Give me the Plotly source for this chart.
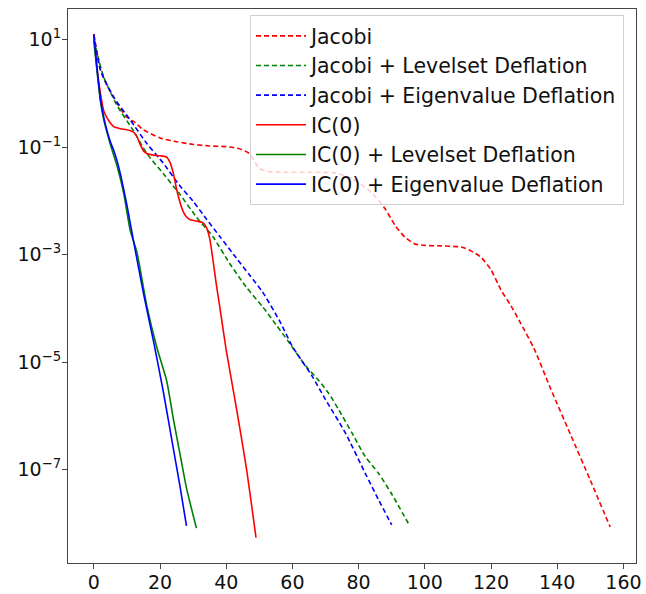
import plotly.graph_objects as go

# ---- data (iteration, residual) ----
jac_x = [0, 2, 4, 6, 8, 10, 12, 15, 20, 25, 30, 35, 40, 44, 47, 50, 53, 57, 65, 73, 78, 84, 88, 91,
         94, 97, 100, 105, 111, 114, 117, 120, 123, 126, 129, 133, 138, 144, 150, 156]
jac_y = [12.6, 2.8, 1.4, 0.85, 0.52, 0.36, 0.30, 0.21, 0.148, 0.126, 0.112, 0.105, 0.102, 0.093,
         0.076, 0.040, 0.035, 0.034, 0.034, 0.033, 0.026, 0.0141, 0.0071, 0.0035, 0.0021, 0.00158,
         0.00148, 0.00145, 0.00138, 0.00117, 8.9e-4, 5.2e-4, 2.2e-4, 1.12e-4, 5.2e-5, 1.78e-5,
         3.2e-6, 4.5e-7, 6.3e-8, 8.5e-9]

jac_ls_x = [0, 3, 7, 12, 16, 21, 26, 31, 36, 41, 46, 51, 55, 59, 64, 68, 71, 74, 78, 82, 86, 90, 95]
jac_ls_y = [10.0, 2.0, 0.60, 0.20, 0.076, 0.032, 0.0132, 0.0050, 0.00214, 6.9e-4, 2.5e-4, 1.07e-4,
            5.0e-5, 2.3e-5, 8.5e-6, 4.5e-6, 2.6e-6, 1.29e-6, 4.8e-7, 1.74e-7, 8.5e-8, 3.5e-8, 1.0e-8]

jac_ev_x = [0, 2, 6, 11, 16, 21, 26, 30, 34, 38, 43, 47, 51, 56, 60, 66, 70, 76, 82, 86, 90]
jac_ev_y = [12.6, 2.7, 0.85, 0.32, 0.117, 0.050, 0.019, 0.0098, 0.0046, 0.0022, 8.7e-4, 4.2e-4,
            2.0e-4, 6.0e-5, 1.95e-5, 5.4e-6, 2.0e-6, 4.8e-7, 8.5e-8, 2.75e-8, 9.3e-9]

ic_x = [0, 1, 2, 3, 4, 5, 6, 8, 10, 12, 13, 14, 15, 16, 18, 20, 22, 23, 24, 25, 26, 27, 28, 29,
        31, 33, 34, 35, 36, 37, 38, 40, 43, 46, 49]
ic_y = [12.6, 2.8, 1.0, 0.47, 0.35, 0.28, 0.24, 0.22, 0.21, 0.19, 0.158, 0.112, 0.085, 0.076,
        0.071, 0.069, 0.065, 0.052, 0.033, 0.0166, 0.0095, 0.0063, 0.0050, 0.0045, 0.0042, 0.0039,
        0.0032, 0.0020, 7.9e-4, 2.8e-4, 1.12e-4, 1.66e-5, 1.48e-6, 1.15e-7, 5.4e-9]

ic_ls_x = [0, 1, 2, 3, 5, 7, 9, 11, 13, 16, 19, 22, 24, 26, 28, 31]
ic_ls_y = [9.3, 2.5, 0.71, 0.32, 0.112, 0.045, 0.0141, 0.0028, 0.00112, 1.12e-4, 1.9e-5, 4.5e-6,
           8.9e-7, 2.0e-7, 4.5e-8, 8.1e-9]

ic_ev_x = [0, 1, 2, 3, 4, 5, 6, 7, 8, 9, 10, 12, 15, 18, 21, 24, 26, 28]
ic_ev_y = [12.6, 2.8, 0.79, 0.36, 0.20, 0.126, 0.087, 0.056, 0.032, 0.0166, 0.0083, 0.00178,
           1.9e-4, 2.5e-5, 2.8e-6, 2.5e-7, 5.0e-8, 8.9e-9]

names = ["Jacobi", "Jacobi + Levelset Deflation", "Jacobi + Eigenvalue Deflation",
         "IC(0)", "IC(0) + Levelset Deflation", "IC(0) + Eigenvalue Deflation"]
xs = [jac_x, jac_ls_x, jac_ev_x, ic_x, ic_ls_x, ic_ev_x]
ys = [jac_y, jac_ls_y, jac_ev_y, ic_y, ic_ls_y, ic_ev_y]
colors = ["#ff0000", "#008000", "#0000ff", "#ff0000", "#008000", "#0000ff"]
dashes = ["5px,3px", "5px,3px", "5px,3px", "solid", "solid", "solid"]

x_ticks = [0, 20, 40, 60, 80, 100, 120, 140, 160]
y_ticks = [10, 1e-1, 1e-3, 1e-5, 1e-7]
y_tick_text = ["10<sup>1</sup>", "10<sup>−1</sup>", "10<sup>−3</sup>", "10<sup>−5</sup>", "10<sup>−7</sup>"]

fig = go.Figure()
for i in range(6):
    fig.add_trace(go.Scatter(
        x=xs[i], y=ys[i], mode="lines", name=names[i],
        line=dict(color=colors[i], width=1.6, dash=dashes[i], shape="spline", smoothing=0.6),
    ))

font = "DejaVu Sans"
fig.update_layout(
    width=646, height=594,
    margin=dict(l=68, r=10, t=9, b=31, autoexpand=False),
    paper_bgcolor="white", plot_bgcolor="white",
    font=dict(family=font, size=19, color="#111"),
    showlegend=True,
    legend=dict(x=(250 - 68) / 568, y=1 - (15 - 9) / 554, xanchor="left", yanchor="top",
                bgcolor="rgba(255,255,255,0.8)", bordercolor="#d0d0d0", borderwidth=1,
                font=dict(family=font, size=20.5, color="#111"),
                tracegroupgap=0, itemwidth=50),
    xaxis=dict(range=[-7.8, 163.8], tickvals=x_ticks, showgrid=False, zeroline=False,
               automargin=False, ticklabelstandoff=-3,
               showline=True, linecolor="#444", linewidth=1, mirror=True,
               ticks="outside", ticklen=5, tickcolor="#444", tickfont=dict(size=19)),
    yaxis=dict(type="log", range=[-8.74, 1.57], tickvals=y_ticks, ticktext=y_tick_text,
               automargin=False, ticklabelstandoff=-3,
               showgrid=False, zeroline=False, showline=True, linecolor="#444", linewidth=1,
               mirror=True, ticks="outside", ticklen=5, tickcolor="#444", tickfont=dict(size=19)),
)

fig.write_html("out.html", config={"displayModeBar": False},
               post_script="document.body.style.margin='0';document.body.style.overflow='hidden';")
